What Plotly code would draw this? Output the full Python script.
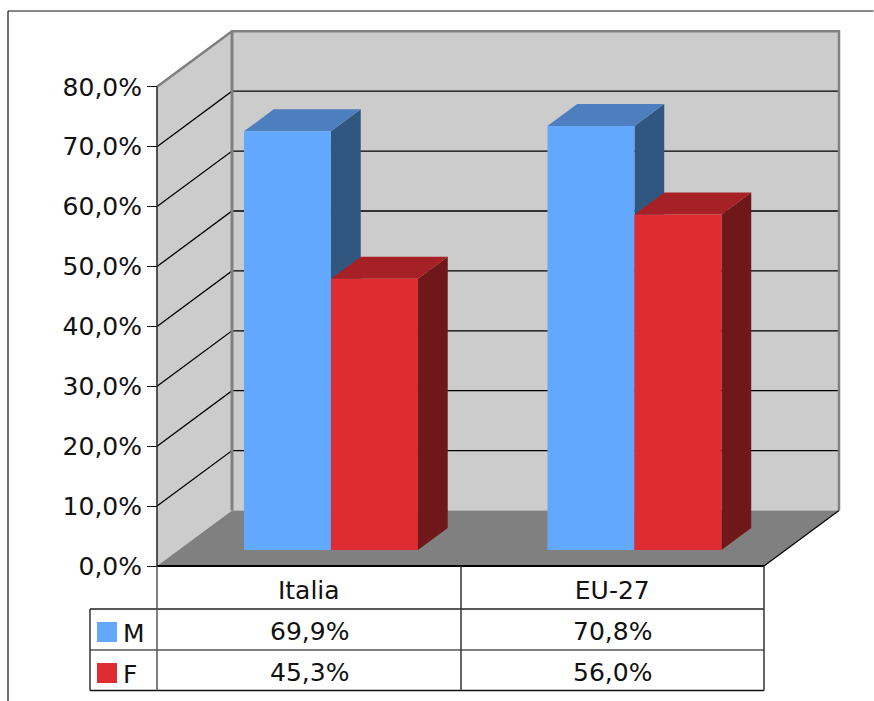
import plotly.graph_objects as go

categories = ["Italia", "EU-27"]
series_names = ["M", "F"]
values_m = [69.9, 70.8]
values_f = [45.3, 56.0]
axis_ticks = [0, 10, 20, 30, 40, 50, 60, 70, 80]

W, H = 874, 701
X0_PX, CAT_PX = 308.75, 303.5      # centre of first category, width of one category
Y0_PX, UNIT_PX = 566.0, 5.99       # pixel of value 0, pixels per percentage point
DX, DY = 75 / CAT_PX, 55.5 / UNIT_PX  # full depth of the box in axis units
BAR_W = 87 / CAT_PX
BAR_SHIFT = 0.6 / CAT_PX
D_FRONT, D_BACK = 0.288, 0.685

C_M = ["#62A8FF", "#4D7FBF", "#315780"]
C_F = ["#DF2C32", "#A62125", "#701719"]
FONT = "DejaVu Sans"
FS = 25
INK = "#111111"


def proj(x, v, d):
    return x + d * DX, v + d * DY


def poly(points, fill=None, line=None, lw=1, z=0):
    xs, ys = zip(*[proj(*p) for p in points])
    return go.Scatter(
        x=list(xs), y=list(ys), mode="lines", hoverinfo="skip", showlegend=False,
        fill="toself" if fill else None, fillcolor=fill,
        line=dict(color=line or "rgba(0,0,0,0)", width=lw if line else 0),
        zorder=z,
    )


def fmt(v):
    return f"{v:.1f}%".replace(".", ",")


xl, xr = -0.5, 1.5
top = axis_ticks[-1]
fig = go.Figure()

# walls and floor
fig.add_trace(poly([(xl, 0, 0), (xl, top, 0), (xl, top, 1), (xl, 0, 1)], "#CCCCCC", z=-5))
fig.add_trace(poly([(xl, 0, 1), (xl, top, 1), (xr, top, 1), (xr, 0, 1)], "#CCCCCC", z=-5))
fig.add_trace(poly([(xl, 0, 0), (xr, 0, 0), (xr, 0, 1), (xl, 0, 1)], "#808080", z=-4))

# gridlines
for t in axis_ticks[1:-1]:
    fig.add_trace(poly([(xl, t, 0), (xl, t, 1), (xr, t, 1)], line="#000000", lw=1.3, z=-4))

# wall borders
fig.add_trace(poly([(xl, top, 0), (xl, top, 1), (xr, top, 1), (xr, 0, 1)], line="#808080", lw=2.5, z=-3))
fig.add_trace(poly([(xl, top, 1), (xl, 0, 1)], line="#808080", lw=3, z=-3))
fig.add_trace(poly([(xr, 0, 0), (xr, 0, 1)], line="#000000", lw=1.2, z=-3))
fig.add_trace(poly([(xl, 0, 0), (xl, top, 0)], line="#222222", lw=1.5, z=-3))

# bars
for i, cat in enumerate(categories):
    for s, (vals, cols) in enumerate(((values_m, C_M), (values_f, C_F))):
        v = vals[i]
        left = i - BAR_W + s * BAR_W + BAR_SHIFT
        right = left + BAR_W
        z = 2 * s + 1
        base = D_FRONT * DY
        fig.add_trace(go.Bar(
            x=[left + BAR_W / 2 + D_FRONT * DX], y=[v], base=[base], width=[BAR_W],
            marker=dict(color=cols[0], line=dict(width=0)),
            hoverinfo="skip", showlegend=False, zorder=z + 1,
        ))
        # v is measured from the front plane of the bar
        fig.add_trace(poly([(right, 0, D_FRONT), (right, v, D_FRONT),
                            (right, v, D_BACK), (right, 0, D_BACK)], cols[2], z=z))
        fig.add_trace(poly([(left, v, D_FRONT), (right, v, D_FRONT),
                            (right, v, D_BACK), (left, v, D_BACK)], cols[1], z=z))


def px(x):
    return x / W


def py(y):
    return 1 - y / H


def seg(x0, y0, x1, y1, color="#333333", width=1.5):
    return dict(type="line", xref="paper", yref="paper", x0=px(x0), y0=py(y0), x1=px(x1), y1=py(y1),
                line=dict(color=color, width=width))


shapes = [
    seg(8, 11, 873.5, 11, "#111111", 1.2),
    seg(8, 11, 8, 701, "#111111", 1.2),
    seg(157, 566, 764, 566, "#000000", 1.8),
    seg(90, 609, 764, 609, "#222222", 1.5),
    seg(90, 650, 764, 650, "#555555", 1.5),
    seg(90, 690.5, 764, 690.5, "#111111", 1.5),
    seg(90, 609, 90, 690.5),
    seg(157, 566, 157, 690.5, "#555555", 1.5),
    seg(461, 566, 461, 690.5),
    seg(764, 566, 764, 690.5),
]
for yy, col in ((622, C_M[0]), (663, C_F[0])):
    shapes.append(dict(type="rect", xref="paper", yref="paper", x0=px(97), x1=px(117),
                       y0=py(yy + 20), y1=py(yy), fillcolor=col, line=dict(width=0)))

annotations = []


def label(x, y, text, anchor="center"):
    annotations.append(dict(xref="paper", yref="paper", x=px(x), y=py(y), text=text, showarrow=False,
                            xanchor=anchor, yanchor="middle", font=dict(family=FONT, size=FS, color=INK)))


for yy, name, vals in ((633, series_names[0], values_m), (674, series_names[1], values_f)):
    label(121, yy, name, "left")
    for i, xc in enumerate((309, 612.5)):
        label(xc, yy - 2, fmt(vals[i]))

xrange_ = [(0 - X0_PX) / CAT_PX, (W - X0_PX) / CAT_PX]
yrange_ = [(Y0_PX - H) / UNIT_PX, Y0_PX / UNIT_PX]

fig.update_layout(
    width=W, height=H, margin=dict(l=0, r=0, t=0, b=0), autosize=False,
    paper_bgcolor="white", plot_bgcolor="white", barmode="overlay",
    showlegend=False, shapes=shapes, annotations=annotations,
    font=dict(family=FONT, size=FS, color=INK),
    xaxis=dict(
        range=xrange_, domain=[0, 1], anchor="free", position=py(Y0_PX), side="bottom",
        tickmode="array", tickvals=[0, 1], ticktext=categories, ticks="outside", ticklen=2,
        tickcolor="rgba(0,0,0,0)", showgrid=False, zeroline=False, showline=False, fixedrange=True,
        tickfont=dict(family=FONT, size=FS, color=INK),
    ),
    yaxis=dict(
        range=yrange_, domain=[0, 1], anchor="free", position=px(157), side="left",
        tickmode="array", tickvals=axis_ticks, ticktext=[fmt(t) for t in axis_ticks],
        ticks="outside", ticklen=10, tickwidth=1.2, tickcolor=INK,
        showgrid=False, zeroline=False, showline=False, fixedrange=True,
        tickfont=dict(family=FONT, size=FS, color=INK),
    ),
)

fig.write_html("out.html", config={"displayModeBar": False},
               post_script="document.body.style.margin='0';document.body.style.overflow='hidden';")
